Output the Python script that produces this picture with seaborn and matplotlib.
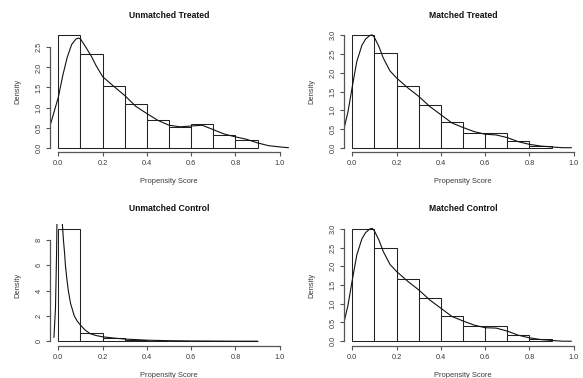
import numpy as np
import pandas as pd
import matplotlib
matplotlib.use("Agg")
import matplotlib.pyplot as plt
import seaborn as sns

sns.set_style("white")
plt.rcParams["font.family"] = ["Liberation Sans", "DejaVu Sans"]

# ---------------- data ----------------
titles = ["Unmatched Treated", "Matched Treated", "Unmatched Control", "Matched Control"]
x_label = "Propensity Score"
y_label = "Density"
bin_edges = [0.0, 0.1, 0.2, 0.3, 0.4, 0.5, 0.6, 0.7, 0.8, 0.9, 1.0]
x_ticks = [0.0, 0.2, 0.4, 0.6, 0.8, 1.0]

ut_heights = [2.80, 2.33, 1.54, 1.09, 0.68, 0.51, 0.58, 0.31, 0.19]
mt_heights = [3.00, 2.52, 1.66, 1.14, 0.68, 0.39, 0.39, 0.18, 0.05]
uc_heights = [8.90, 0.61, 0.22, 0.10, 0.05, 0.02, 0.01, 0.01, 0.01]
mc_heights = [3.00, 2.50, 1.67, 1.14, 0.66, 0.40, 0.40, 0.16, 0.05]

ut_dens_x = [-0.04, 0.0, 0.02, 0.04, 0.06, 0.08, 0.09, 0.10, 0.12, 0.15, 0.17, 0.20, 0.25,
             0.30, 0.35, 0.40, 0.45, 0.50, 0.55, 0.60, 0.65, 0.70, 0.75, 0.80, 0.85, 0.90,
             0.95, 1.00, 1.04]
ut_dens_y = [0.50, 1.26, 1.80, 2.25, 2.57, 2.71, 2.73, 2.71, 2.54, 2.27, 2.05, 1.77, 1.53,
             1.30, 1.03, 0.85, 0.68, 0.56, 0.52, 0.54, 0.56, 0.45, 0.34, 0.27, 0.21, 0.12,
             0.05, 0.02, 0.0]

mt_dens_x = [-0.04, -0.02, 0.0, 0.02, 0.043, 0.06, 0.08, 0.09, 0.10, 0.12, 0.14, 0.17, 0.20,
             0.25, 0.30, 0.35, 0.40, 0.45, 0.50, 0.55, 0.60, 0.65, 0.70, 0.75, 0.80, 0.85,
             0.90, 0.95, 0.99]
mt_dens_y = [0.45, 0.95, 1.64, 2.30, 2.73, 2.90, 3.00, 3.01, 2.94, 2.70, 2.39, 2.05, 1.86,
             1.60, 1.37, 1.10, 0.88, 0.66, 0.54, 0.43, 0.36, 0.34, 0.27, 0.16, 0.09, 0.045,
             0.02, 0.0, 0.0]

uc_dens_x = [-0.02, -0.013, -0.008, -0.003, 0.002, 0.010, 0.018, 0.023, 0.028, 0.032, 0.038,
             0.045, 0.055, 0.072, 0.085, 0.10, 0.12, 0.143, 0.17, 0.20, 0.25, 0.30, 0.40,
             0.50, 0.60, 0.70, 0.80, 0.90]
uc_dens_y = [0.3, 2.6, 7.0, 14.0, 20.0, 14.0, 9.3, 8.0, 7.0, 6.0, 5.0,
             4.0, 3.0, 2.0, 1.6, 1.27, 0.9, 0.6, 0.45, 0.35, 0.25, 0.17, 0.08,
             0.04, 0.02, 0.01, 0.0, 0.0]

mc_dens_x = [-0.04, -0.02, 0.0, 0.02, 0.043, 0.06, 0.08, 0.09, 0.10, 0.12, 0.14, 0.17, 0.20,
             0.25, 0.30, 0.35, 0.40, 0.45, 0.50, 0.55, 0.60, 0.65, 0.70, 0.75, 0.80, 0.85,
             0.90, 0.95, 0.99]
mc_dens_y = [0.45, 0.95, 1.64, 2.30, 2.73, 2.90, 3.00, 3.01, 2.94, 2.70, 2.39, 2.05, 1.86,
             1.60, 1.37, 1.10, 0.88, 0.66, 0.54, 0.43, 0.36, 0.35, 0.27, 0.16, 0.09, 0.045,
             0.02, 0.0, 0.0]

ut_yticks = [0.0, 0.5, 1.0, 1.5, 2.0, 2.5]
mt_yticks = [0.0, 0.5, 1.0, 1.5, 2.0, 2.5, 3.0]
uc_yticks = [0, 2, 4, 6, 8]
mc_yticks = [0.0, 0.5, 1.0, 1.5, 2.0, 2.5, 3.0]

panels = [
    (titles[0], ut_heights, ut_dens_x, ut_dens_y, ut_yticks, "{:.1f}"),
    (titles[1], mt_heights, mt_dens_x, mt_dens_y, mt_yticks, "{:.1f}"),
    (titles[2], uc_heights, uc_dens_x, uc_dens_y, uc_yticks, "{:d}"),
    (titles[3], mc_heights, mc_dens_x, mc_dens_y, mc_yticks, "{:.1f}"),
]

# ---------------- layout ----------------
W, H = 583, 378
fig = plt.figure(figsize=(W / 100, H / 100), dpi=100)
fig.patch.set_facecolor("white")

col_left = [49.5, 343.5]
row_top = [30.8, 224.3]
ax_w, ax_h = 239.0, 121.4

text_col = "#3a3a3a"
axis_col = "#555555"

for i, (title, heights, dx, dy, yticks, fmt) in enumerate(panels):
    r, c = divmod(i, 2)
    left = col_left[c] / W
    bottom = (H - row_top[r] - ax_h) / H
    ax = fig.add_axes([left, bottom, ax_w / W, ax_h / H])
    ax.set_facecolor("white")

    edges = list(bin_edges[: len(heights) + 1])
    mids = [(a + b) / 2 for a, b in zip(edges[:-1], edges[1:])]
    df = pd.DataFrame({"score": mids, "dens": heights})
    sns.histplot(data=df, x="score", weights="dens", bins=edges, stat="count",
                 color="white", edgecolor="#222222", linewidth=0.75, alpha=1.0, ax=ax)
    dd = pd.DataFrame({"x": dx, "y": dy})
    sns.lineplot(data=dd, x="x", y="y", sort=False, estimator=None,
                 color="#111111", linewidth=0.8, ax=ax)

    ymax = max(heights)
    ax.set_xlim(-0.04, 1.04)
    ax.set_ylim(-0.04 * ymax, 1.04 * ymax)

    for s in ["top", "right"]:
        ax.spines[s].set_visible(False)
    for s in ["left", "bottom"]:
        ax.spines[s].set_color(axis_col)
        ax.spines[s].set_linewidth(0.9)
    ax.spines["bottom"].set_bounds(x_ticks[0], x_ticks[-1])
    ax.spines["left"].set_bounds(yticks[0], yticks[-1])

    ax.set_xticks(x_ticks)
    ax.set_xticklabels(["{:.1f}".format(v) for v in x_ticks])
    ax.set_yticks(yticks)
    ax.set_yticklabels([fmt.format(v) for v in yticks], rotation=90, va="center")
    ax.tick_params(axis="both", which="both", length=2.6, width=0.8, color=axis_col,
                   labelsize=5.3, labelcolor=text_col, direction="out",
                   bottom=True, left=True)
    ax.tick_params(axis="x", pad=3.3)
    ax.tick_params(axis="y", pad=2.3)

    ax.set_xlabel(x_label, fontsize=5.4, color=text_col)
    ax.set_ylabel(y_label, fontsize=5.4, color=text_col)
    ax.xaxis.set_label_coords(0.5, -(181.7 - (row_top[0] + ax_h)) / ax_h)
    ax.xaxis.label.set_va("center")
    ax.yaxis.set_label_coords(-31.2 / ax_w, 0.5)
    ax.yaxis.label.set_va("center")

    ax.text(0.5, 1 + 15.8 / ax_h, title, transform=ax.transAxes, ha="center",
            va="center", fontsize=6.2, fontweight="bold", color="#111111")
    ax.grid(False)

fig.savefig("out.png", dpi=100, facecolor="white")
